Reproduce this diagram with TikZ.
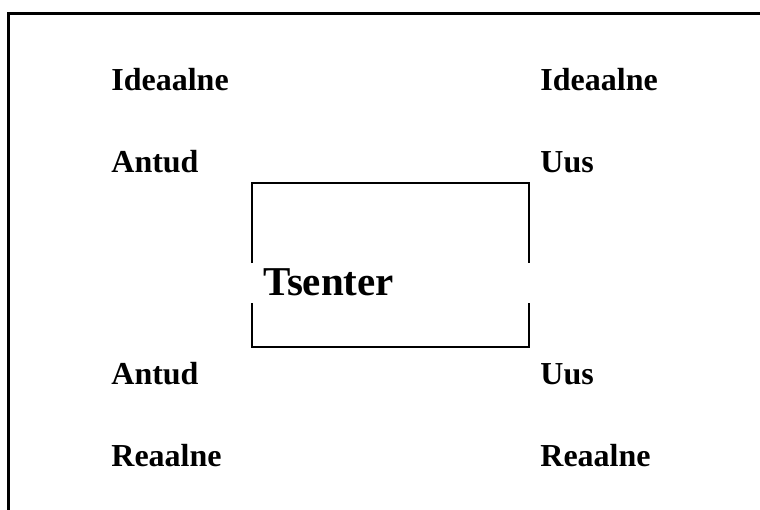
\documentclass[tikz,border=0pt]{standalone}
\usepackage{fontspec}
\setmainfont{Liberation Serif}
\begin{document}
\begin{tikzpicture}[x=0.5pt,y=-0.5pt,
  lbl/.style={anchor=base west,inner sep=0pt,font=\fontsize{16}{19}\selectfont\bfseries},
  big/.style={anchor=base west,inner sep=0pt,font=\fontsize{20.5}{24}\selectfont\bfseries},
  frameline/.style={line width=1.5pt,line cap=rect,line join=miter},
  boxline/.style={line width=1.4pt,line join=miter}]
\useasboundingbox (0,0) rectangle (760,509);
% outer frame
\coordinate (fbl) at (8,509);
\coordinate (ftl) at (8,13);
\coordinate (ftr) at (760,13);
\draw[frameline] (fbl) -- (ftl) -- (ftr);
% centre box with gaps on both sides
\coordinate (b1) at (252,263);
\coordinate (b2) at (252,183);
\coordinate (b3) at (529,183);
\coordinate (b4) at (529,263);
\coordinate (b5) at (252,303);
\coordinate (b6) at (252,347);
\coordinate (b7) at (529,347);
\coordinate (b8) at (529,303);
\draw[boxline] (b1) -- (b2) -- (b3) -- (b4);
\draw[boxline] (b5) -- (b6) -- (b7) -- (b8);
% labels
\node[lbl] (li) at (111,90) {Ideaalne};
\node[lbl] (ri) at (540,90) {Ideaalne};
\node[lbl] (la) at (111,172) {Antud};
\node[lbl] (ru) at (540,172) {Uus};
\node[big] (ts) at (263,295) {Tsenter};
\node[lbl] (la2) at (111,384) {Antud};
\node[lbl] (ru2) at (540,384) {Uus};
\node[lbl] (lr) at (111,466) {Reaalne};
\node[lbl] (rr) at (540,466) {Reaalne};
\end{tikzpicture}
\end{document}
